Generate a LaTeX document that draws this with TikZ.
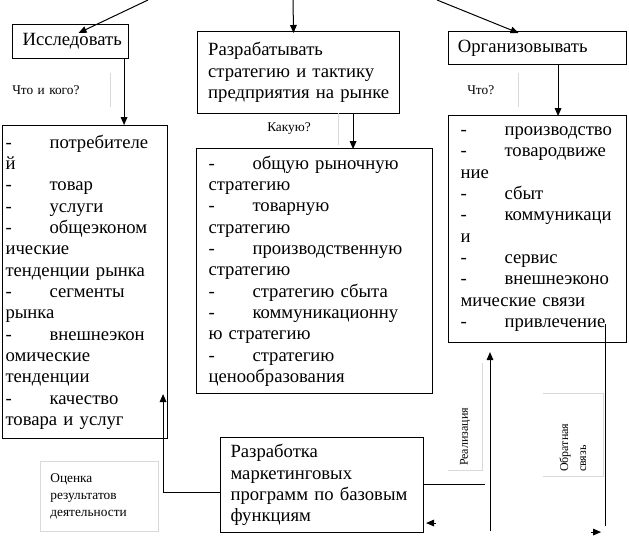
\documentclass[tikz,border=0pt]{standalone}
\usepackage{fontspec}
\setmainfont{Liberation Serif}
\usepackage{tikz}
\usetikzlibrary{arrows.meta}
\usetikzlibrary{calc}

\newcommand{\li}[1]{\makebox[33pt][l]{-}#1}

\tikzset{
  box/.style={draw=black,line width=0.8pt,anchor=north west,align=left,inner ysep=0pt,font=\fontsize{14}{16}\selectfont},
  note/.style={anchor=west,align=left,inner xsep=3pt,inner ysep=0pt,font=\fontsize{10}{12.75}\selectfont},
  faint/.style={draw=black!15,line width=0.6pt},
  arr/.style={draw=black,line width=0.75pt,-{Triangle[length=6pt,width=5pt]}},
  link/.style={draw=black,line width=0.75pt},
}

\begin{document}
\begin{tikzpicture}[x=0.75pt,y=-0.75pt]
\useasboundingbox (0,0) rectangle (629,538);

%TOP
\node[box,text width=72pt,inner xsep=7.5pt,minimum height=25.5pt](isl)at(12,24){Исследовать};
\node[box,text width=143.5pt,inner xsep=4pt,minimum height=61.5pt](razr)at(197,31){\hspace{4pt}Разрабатывать\\\hspace{4pt}стратегию и тактику\\\hspace{4pt}предприятия на рынке};
\node[box,text width=119.5pt,inner xsep=7pt,minimum height=24.75pt](org)at(448,31){Организовывать};

\coordinate(in1)at(148,0);
\coordinate(in2)at(293,0);
\coordinate(in3)at(437,0);
\draw[arr] (in1) -- ([shift={(8,9)}]isl.north);
\draw[arr] (in2) -- ([shift={(-5,2)}]razr.north);
\draw[arr] (in3) -- ([shift={(-19,2)}]org.north);

%LISTS
\node[box,text width=119.25pt,inner xsep=2.25pt,minimum height=234.75pt](lst1)at(2,125){\li{потребителе}\\й\\\li{товар}\\\li{услуги}\\\li{общеэконом}\\ические\\тенденции рынка\\\li{сегменты}\\рынка\\\li{внешнеэкон}\\омические\\тенденции\\\li{качество}\\товара и услуг};
\node[box,text width=159pt,inner xsep=9pt,minimum height=183.75pt](lst2)at(196,148){\li{общую рыночную}\\стратегию\\\li{товарную}\\стратегию\\\li{производственную}\\стратегию\\\li{стратегию сбыта}\\\li{коммуникационну}\\ю стратегию\\\li{стратегию}\\ценообразования};
\node[box,text width=115.5pt,inner xsep=9pt,minimum height=170.25pt](lst3)at(448,115){\li{производство}\\\li{товародвиже}\\ние\\\li{сбыт}\\\li{коммуникаци}\\и\\\li{сервис}\\\li{внешнеэконо}\\мические связи\\\li{привлечение}};

\draw[arr] ([shift={(-5,0)}]isl.south east) -- ([shift={(-5,66)}]isl.south east);
\draw[arr] ([shift={(-47,0)}]razr.south east) -- ([shift={(-47,35)}]razr.south east);
\draw[arr] ([shift={(-69,0)}]org.south east) -- ([shift={(-69,51)}]org.south east);

%QUESTIONS
\node[note,text width=70.5pt,minimum height=25.5pt](q1)at(8,90){Что и кого?};
\node[note,text width=50.25pt,minimum height=24pt](q2)at(263,129){Какую?};
\node[note,text width=35.25pt,minimum height=25.5pt](q3)at(463,90){Что?};
\draw[faint] (q1.north east) -- (q1.south east);
\draw[faint] (q2.north east) -- (q2.south east);
\draw[faint] (q3.north east) -- (q3.south east);

%BOTTOM
\node[box,text width=137.25pt,inner xsep=7.5pt,minimum height=71.25pt](prog)at(220,437){Разработка\\маркетинговых\\программ по базовым\\функциям};
\node[note,anchor=north west,draw=black!15,line width=0.6pt,text width=73.5pt,inner xsep=7.5pt,minimum height=52.5pt](eval)at(40,461){Оценка\\результатов\\деятельности};

\draw[arr] ([shift={(0,7)}]prog.west) -| ([shift={(-5,-45)}]lst1.south east);
\draw[link] ([shift={(0,-1)}]prog.east) -- ++(61,0);
\draw[arr] ([shift={(12,38)}]prog.east) -- ([shift={(2,38)}]prog.east);

%FEEDBACK
\node[note,rotate=90,anchor=center,text width=74.25pt,minimum height=25.5pt,font=\fontsize{9}{13.5}\selectfont](real)at(465,416.5){Реализация};
\draw[faint] (real.north west) -- (real.south west) -- (real.south east);
\node[note,rotate=90,anchor=center,text width=55.5pt,minimum height=45pt,font=\fontsize{9}{13.5}\selectfont](back)at(573,435){Обратная\\связь};
\draw[faint] (back.north east) -- (back.south east) -- (back.south west) -- (back.north west);

\draw[arr] ([shift={(42,188)}]lst3.south west) -- ([shift={(42,9)}]lst3.south west);
\draw[link] ([shift={(-22,-19)}]lst3.south east) -- ++(0,202);
\draw[arr] ([shift={(-36,189)}]lst3.south east) -- ([shift={(-26,189)}]lst3.south east);

\end{tikzpicture}
\end{document}
